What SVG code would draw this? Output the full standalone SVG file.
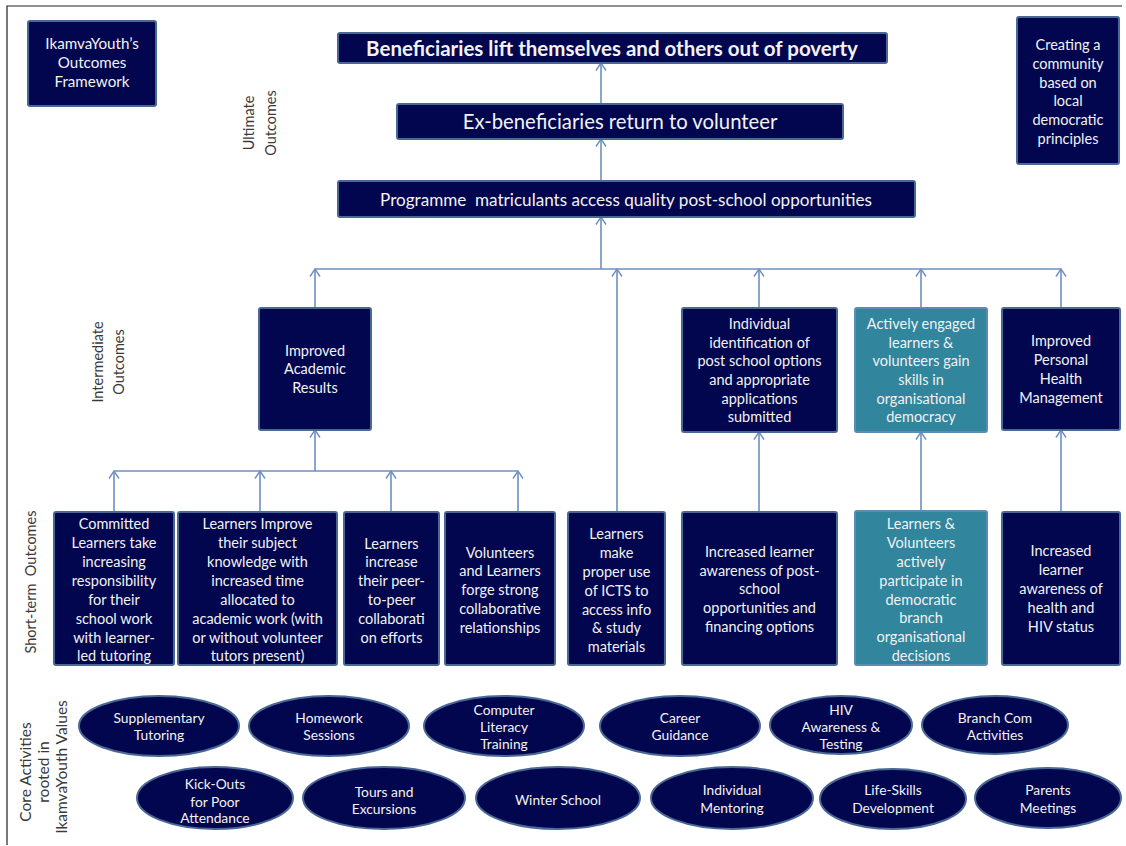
<svg xmlns="http://www.w3.org/2000/svg" width="1126" height="846" viewBox="0 0 1126 846">
<defs>
<marker id="arr" viewBox="0 0 12 12" refX="11" refY="6" markerWidth="12" markerHeight="12" markerUnits="userSpaceOnUse" orient="auto">
<path d="M3.5,1 L11,6 L3.5,11" fill="none" stroke="#6f8fc0" stroke-width="1.4"/>
</marker>
<style>
.bx{fill:#02064f;stroke:#4a6894;stroke-width:2}
.tl{fill:#31859c;stroke:#5b8db3;stroke-width:2}
.el{fill:#02064f;stroke:#4a6894;stroke-width:2}
.t{font-family:Lato,"Liberation Sans",sans-serif;font-size:14.5px;fill:#f2f2f2;text-anchor:middle;dominant-baseline:central}
.e{font-family:Lato,"Liberation Sans",sans-serif;font-size:13.8px;fill:#f2f2f2;text-anchor:middle;dominant-baseline:central}
.lb{font-family:Lato,"Liberation Sans",sans-serif;font-size:14.5px;fill:#3a3a3a;text-anchor:middle;dominant-baseline:central}
.c{fill:none;stroke:#6f8fc0;stroke-width:1.6}
</style>
</defs>
<rect width="1126" height="846" fill="#ffffff"/>
<path d="M7,845 V6 H1122" fill="none" stroke="#222" stroke-width="1.2"/>

<g id="connectors">
<path class="c" d="M601,181 V139" marker-end="url(#arr)"/>
<path class="c" d="M601,104 V63" marker-end="url(#arr)"/>
<path class="c" d="M601,269 V217" marker-end="url(#arr)"/>
<path class="c" d="M315,269 H1061"/>
<path class="c" d="M315,308 V269" marker-end="url(#arr)"/>
<path class="c" d="M617,512 V269" marker-end="url(#arr)"/>
<path class="c" d="M759,308 V269" marker-end="url(#arr)"/>
<path class="c" d="M921,308 V269" marker-end="url(#arr)"/>
<path class="c" d="M1061,308 V269" marker-end="url(#arr)"/>
<path class="c" d="M315,471 V430" marker-end="url(#arr)"/>
<path class="c" d="M114,471 H518"/>
<path class="c" d="M114,512 V471" marker-end="url(#arr)"/>
<path class="c" d="M260,512 V471" marker-end="url(#arr)"/>
<path class="c" d="M391,512 V471" marker-end="url(#arr)"/>
<path class="c" d="M518,512 V471" marker-end="url(#arr)"/>
<path class="c" d="M759,512 V432" marker-end="url(#arr)"/>
<path class="c" d="M921,512 V432" marker-end="url(#arr)"/>
<path class="c" d="M1061,512 V430" marker-end="url(#arr)"/>
</g>

<g id="labels">
<text class="lb" transform="translate(248,123) rotate(-90)">Ultimate</text>
<text class="lb" transform="translate(270,123) rotate(-90)">Outcomes</text>
<text class="lb" transform="translate(97,362) rotate(-90)">Intermediate</text>
<text class="lb" transform="translate(118,362) rotate(-90)">Outcomes</text>
<text class="lb" transform="translate(30,582) rotate(-90)" style="white-space:pre">Short-term  Outcomes</text>
<text class="lb" transform="translate(25,772) rotate(-90)" style="font-size:15.5px">Core Activities</text>
<text class="lb" transform="translate(43,772) rotate(-90)" style="font-size:15.5px">rooted in</text>
<text class="lb" transform="translate(61,767) rotate(-90)" style="font-size:15.5px">IkamvaYouth Values</text>
</g>

<g id="title">
<rect class="bx" x="28" y="21" width="128" height="85" rx="2"/>
<text class="t" x="92" y="43" style="font-size:15.2px">IkamvaYouth’s</text>
<text class="t" x="92" y="62" style="font-size:15.2px">Outcomes</text>
<text class="t" x="92" y="81" style="font-size:15.2px">Framework</text>
</g>

<g id="community">
<rect class="bx" x="1017" y="17" width="102" height="147" rx="2"/>
<text class="t" x="1068" y="44">Creating a</text>
<text class="t" x="1068" y="63">community</text>
<text class="t" x="1068" y="82">based on</text>
<text class="t" x="1068" y="100">local</text>
<text class="t" x="1068" y="119">democratic</text>
<text class="t" x="1068" y="138">principles</text>
</g>

<g id="ult1">
<rect class="bx" x="338" y="33" width="549" height="30" rx="2"/>
<text class="t" x="612" y="48" style="font-size:20.5px;font-weight:bold">Beneficiaries lift themselves and others out of poverty</text>
</g>
<g id="ult2">
<rect class="bx" x="397" y="104" width="446" height="35" rx="2"/>
<text class="t" x="620" y="121" style="font-size:20.3px">Ex-beneficiaries return to volunteer</text>
</g>
<g id="ult3">
<rect class="bx" x="338" y="181" width="577" height="36" rx="2"/>
<text class="t" x="626" y="199" style="font-size:17.1px;white-space:pre">Programme  matriculants access quality post-school opportunities</text>
</g>

<g id="int-academic">
<rect class="bx" x="259" y="308" width="112" height="122" rx="2"/>
<text class="t" x="315" y="350">Improved</text>
<text class="t" x="315" y="368">Academic</text>
<text class="t" x="315" y="387">Results</text>
</g>
<g id="int-postschool">
<rect class="bx" x="682" y="308" width="155" height="124" rx="2"/>
<text class="t" x="759.5" y="323">Individual</text>
<text class="t" x="759.5" y="342">identification of</text>
<text class="t" x="759.5" y="360">post school options</text>
<text class="t" x="759.5" y="379">and appropriate</text>
<text class="t" x="759.5" y="398">applications</text>
<text class="t" x="759.5" y="416">submitted</text>
</g>
<g id="int-democracy">
<rect class="tl" x="855" y="308" width="132" height="124" rx="2"/>
<text class="t" x="921" y="323">Actively engaged</text>
<text class="t" x="921" y="342">learners &amp;</text>
<text class="t" x="921" y="360">volunteers gain</text>
<text class="t" x="921" y="379">skills in</text>
<text class="t" x="921" y="398">organisational</text>
<text class="t" x="921" y="416">democracy</text>
</g>
<g id="int-health">
<rect class="bx" x="1002" y="308" width="118" height="122" rx="2"/>
<text class="t" x="1061" y="340">Improved</text>
<text class="t" x="1061" y="359">Personal</text>
<text class="t" x="1061" y="378">Health</text>
<text class="t" x="1061" y="397">Management</text>
</g>

<g id="st-committed">
<rect class="bx" x="54" y="512" width="120" height="153" rx="2"/>
<text class="t" x="114" y="523">Committed</text>
<text class="t" x="114" y="542">Learners take</text>
<text class="t" x="114" y="561">increasing</text>
<text class="t" x="114" y="580">responsibility</text>
<text class="t" x="114" y="599">for their</text>
<text class="t" x="114" y="618">school work</text>
<text class="t" x="114" y="637">with learner-</text>
<text class="t" x="114" y="655">led tutoring</text>
</g>
<g id="st-knowledge">
<rect class="bx" x="178" y="512" width="159" height="153" rx="2"/>
<text class="t" x="257.5" y="523">Learners Improve</text>
<text class="t" x="257.5" y="542">their subject</text>
<text class="t" x="257.5" y="561">knowledge with</text>
<text class="t" x="257.5" y="580">increased time</text>
<text class="t" x="257.5" y="599">allocated to</text>
<text class="t" x="257.5" y="618">academic work (with</text>
<text class="t" x="257.5" y="637">or without volunteer</text>
<text class="t" x="257.5" y="655">tutors present)</text>
</g>
<g id="st-peer">
<rect class="bx" x="344" y="512" width="95" height="153" rx="2"/>
<text class="t" x="391.5" y="543">Learners</text>
<text class="t" x="391.5" y="561">increase</text>
<text class="t" x="391.5" y="580">their peer-</text>
<text class="t" x="391.5" y="599">to-peer</text>
<text class="t" x="391.5" y="618">collaborati</text>
<text class="t" x="391.5" y="637">on efforts</text>
</g>
<g id="st-relationships">
<rect class="bx" x="445" y="512" width="110" height="153" rx="2"/>
<text class="t" x="500" y="552">Volunteers</text>
<text class="t" x="500" y="570">and Learners</text>
<text class="t" x="500" y="589">forge strong</text>
<text class="t" x="500" y="608">collaborative</text>
<text class="t" x="500" y="627">relationships</text>
</g>
<g id="st-icts">
<rect class="bx" x="568" y="512" width="97" height="153" rx="2"/>
<text class="t" x="616.5" y="533">Learners</text>
<text class="t" x="616.5" y="552">make</text>
<text class="t" x="616.5" y="571">proper use</text>
<text class="t" x="616.5" y="590">of ICTS to</text>
<text class="t" x="616.5" y="609">access info</text>
<text class="t" x="616.5" y="627">&amp; study</text>
<text class="t" x="616.5" y="646">materials</text>
</g>
<g id="st-awareness">
<rect class="bx" x="682" y="512" width="155" height="153" rx="2"/>
<text class="t" x="759.5" y="551">Increased learner</text>
<text class="t" x="759.5" y="570">awareness of post-</text>
<text class="t" x="759.5" y="588">school</text>
<text class="t" x="759.5" y="607">opportunities and</text>
<text class="t" x="759.5" y="626">financing options</text>
</g>
<g id="st-participate">
<rect class="tl" x="855" y="511" width="132" height="154" rx="2"/>
<text class="t" x="921" y="523">Learners &amp;</text>
<text class="t" x="921" y="542">Volunteers</text>
<text class="t" x="921" y="561">actively</text>
<text class="t" x="921" y="580">participate in</text>
<text class="t" x="921" y="599">democratic</text>
<text class="t" x="921" y="617">branch</text>
<text class="t" x="921" y="636">organisational</text>
<text class="t" x="921" y="655">decisions</text>
</g>
<g id="st-health">
<rect class="bx" x="1002" y="512" width="118" height="153" rx="2"/>
<text class="t" x="1061" y="550">Increased</text>
<text class="t" x="1061" y="569">learner</text>
<text class="t" x="1061" y="588">awareness of</text>
<text class="t" x="1061" y="607">health and</text>
<text class="t" x="1061" y="626">HIV status</text>
</g>

<g id="act-tutoring">
<ellipse class="el" cx="159" cy="726" rx="80" ry="30"/>
<text class="e" x="159" y="717">Supplementary</text>
<text class="e" x="159" y="734">Tutoring</text>
</g>
<g id="act-homework">
<ellipse class="el" cx="329" cy="726" rx="80" ry="30"/>
<text class="e" x="329" y="717">Homework</text>
<text class="e" x="329" y="734">Sessions</text>
</g>
<g id="act-computer">
<ellipse class="el" cx="504" cy="726" rx="80" ry="30"/>
<text class="e" x="504" y="709">Computer</text>
<text class="e" x="504" y="726">Literacy</text>
<text class="e" x="504" y="743">Training</text>
</g>
<g id="act-career">
<ellipse class="el" cx="680" cy="726" rx="80" ry="30"/>
<text class="e" x="680" y="717">Career</text>
<text class="e" x="680" y="734">Guidance</text>
</g>
<g id="act-hiv">
<ellipse class="el" cx="841" cy="725" rx="71" ry="29"/>
<text class="e" x="841" y="709">HIV</text>
<text class="e" x="841" y="726">Awareness &amp;</text>
<text class="e" x="841" y="743">Testing</text>
</g>
<g id="act-branch">
<ellipse class="el" cx="995" cy="725" rx="73" ry="29"/>
<text class="e" x="995" y="717">Branch Com</text>
<text class="e" x="995" y="734">Activities</text>
</g>
<g id="act-kickouts">
<ellipse class="el" cx="215" cy="798" rx="78" ry="31"/>
<text class="e" x="215" y="783">Kick-Outs</text>
<text class="e" x="215" y="801">for Poor</text>
<text class="e" x="215" y="817">Attendance</text>
</g>
<g id="act-tours">
<ellipse class="el" cx="384" cy="798" rx="81" ry="31"/>
<text class="e" x="384" y="791">Tours and</text>
<text class="e" x="384" y="808">Excursions</text>
</g>
<g id="act-winter">
<ellipse class="el" cx="558" cy="798" rx="82" ry="31"/>
<text class="e" x="558" y="799">Winter School</text>
</g>
<g id="act-mentoring">
<ellipse class="el" cx="732" cy="798" rx="81" ry="31"/>
<text class="e" x="732" y="789">Individual</text>
<text class="e" x="732" y="807">Mentoring</text>
</g>
<g id="act-lifeskills">
<ellipse class="el" cx="893" cy="799" rx="73" ry="30"/>
<text class="e" x="893" y="789">Life-Skills</text>
<text class="e" x="893" y="807">Development</text>
</g>
<g id="act-parents">
<ellipse class="el" cx="1048" cy="798" rx="73" ry="30"/>
<text class="e" x="1048" y="789">Parents</text>
<text class="e" x="1048" y="807">Meetings</text>
</g>
</svg>
